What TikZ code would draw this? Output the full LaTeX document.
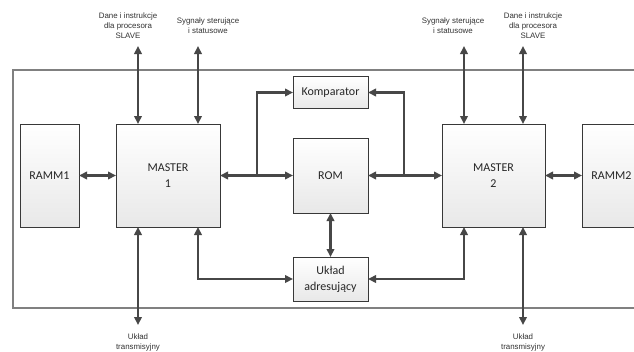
\documentclass[tikz,border=0pt]{standalone}
\usepackage{fontspec}
\setmainfont{Carlito}
\newfontfamily\labfont{Liberation Sans}
\usetikzlibrary{arrows.meta}
\begin{document}
\begin{tikzpicture}[x=1pt,y=-1pt,
  box/.style={draw=black!78,line width=0.8pt,top color=white,bottom color=black!9,
    inner sep=0pt,outer sep=0pt,align=center,text=black!85,
    font=\fontsize{12}{16}\selectfont},
  lbl/.style={align=center,text=black!80,inner sep=0pt,
    font=\labfont\fontsize{7.9}{10}\selectfont},
  tip/.tip={Triangle[length=8pt,width=7.5pt]},
  arr/.style={line width=2.3pt,draw=black!72,tip-tip},
  arrE/.style={line width=2.3pt,draw=black!72,-tip},
  frame/.style={draw=black!50,line width=1.1pt}]
\useasboundingbox (0,0) rectangle (634,351);
\fill[white] (0,0) rectangle (634,351);
% outer frame
\draw[frame] (660,70) -- (13,70) -- (13,308) -- (660,308);
% boxes
\node[box,minimum width=59pt,minimum height=103pt] (r1) at (49.5,175.5) {RAMM1};
\node[box,minimum width=104pt,minimum height=103pt] (m1) at (168,175.5) {MASTER\\1};
\node[box,minimum width=75pt,minimum height=32pt] (komp) at (330.5,92.5) {Komparator};
\node[box,minimum width=75pt,minimum height=75pt] (rom) at (330.5,175.5) {ROM};
\node[box,minimum width=75pt,minimum height=44pt] (ua) at (330.5,279) {Układ\\adresujący};
\node[box,minimum width=103pt,minimum height=103pt] (m2) at (493.5,175.5) {MASTER\\2};
\node[box,minimum width=59pt,minimum height=103pt] (r2) at (611.5,175.5) {RAMM2};
% labels
\node[lbl] (l1) at (128,26) {Dane i instrukcje\\dla procesora\\SLAVE};
\node[lbl] (l2) at (208,26) {Sygnały sterujące\\i statusowe};
\node[lbl] (l3) at (453,26) {Sygnały sterujące\\i statusowe};
\node[lbl] (l4) at (533,26) {Dane i instrukcje\\dla procesora\\SLAVE};
\node[lbl] (l5) at (138,342) {Układ\\transmisyjny};
\node[lbl] (l6) at (523,342) {Układ\\transmisyjny};
% free ends
\coordinate (t1) at (138,46);
\coordinate (t2) at (198,46);
\coordinate (t3) at (464,46);
\coordinate (t4) at (523,46);
\coordinate (b1) at (138,325);
\coordinate (b2) at (523,325);
\coordinate (j1) at (257,175.5);
\coordinate (j2) at (404,175.5);
% connectors
\draw[arr] (r1) -- (m1);
\draw[arr] (m2) -- (r2);
\draw[arr] (m1) -- (rom);
\draw[arr] (rom) -- (m2);
\draw[arrE] (j1) |- (komp.west);
\draw[arrE] (j2) |- (komp.east);
\draw[arr] (rom) -- (ua);
\draw[arr] (t1) -- (t1 |- m1.north);
\draw[arr] (t2) -- (t2 |- m1.north);
\draw[arr] (t3) -- (t3 |- m2.north);
\draw[arr] (t4) -- (t4 |- m2.north);
\draw[arr] (b1) -- (b1 |- m1.south);
\draw[arr] (b2) -- (b2 |- m2.south);
\draw[arr] (t2 |- m1.south) |- (ua.west);
\draw[arr] (t3 |- m2.south) |- (ua.east);
\end{tikzpicture}
\end{document}
